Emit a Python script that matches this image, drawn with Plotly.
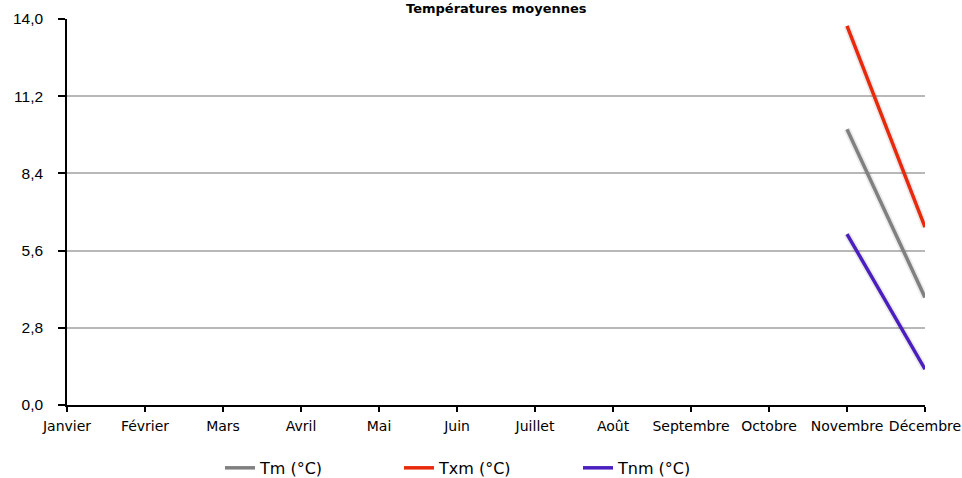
import plotly.graph_objects as go

months = ["Janvier", "Février", "Mars", "Avril", "Mai", "Juin", "Juillet",
          "Août", "Septembre", "Octobre", "Novembre", "Décembre"]
tm = [None] * 10 + [10.0, 3.9]
txm = [None] * 10 + [13.75, 6.45]
tnm = [None] * 10 + [6.2, 1.3]
y_ticks = [0.0, 2.8, 5.6, 8.4, 11.2, 14.0]
title = "Températures moyennes"

x = list(range(len(months)))
fig = go.Figure()
series = [("Tm (°C)", tm, "#808080"), ("Txm (°C)", txm, "#e8290b"), ("Tnm (°C)", tnm, "#4b1fbf")]
# soft shadows under the lines
for name, vals, col in series:
    fig.add_trace(go.Scatter(x=x, y=vals, mode="lines",
                             line=dict(color="rgba(0,0,0,0.08)", width=7),
                             showlegend=False, hoverinfo="skip"))
for name, vals, col in series:
    fig.add_trace(go.Scatter(x=x, y=vals, mode="lines", name=name,
                             line=dict(color=col, width=3.5)))

fig.add_annotation(text="<b>" + title + "</b>", x=0.5, xref="paper", y=1.0, yref="paper",
                   yanchor="bottom", yshift=1, showarrow=False,
                   font=dict(size=13, color="#000", family="DejaVu Sans"))
fig.update_layout(
    width=962, height=478, separators=", ",
    margin=dict(l=67, r=37, t=19, b=73, autoexpand=False),
    plot_bgcolor="white", paper_bgcolor="white",
    font=dict(family="DejaVu Sans", size=13, color="#000"),
    showlegend=True,
    legend=dict(orientation="h", x=(220 - 67) / 858, xanchor="left", y=-0.163, yanchor="middle",
                font=dict(size=16, family="DejaVu Sans"), entrywidth=134, itemwidth=30,
                bgcolor="rgba(0,0,0,0)"),
    xaxis=dict(range=[0, 11], tickvals=x, ticktext=months, showgrid=False, automargin=False,
               showline=True, linecolor="#000", linewidth=2, ticks="outside",
               tickcolor="#000", ticklen=5, tickwidth=1.5, ticklabelstandoff=2,
               tickfont=dict(size=14, family="DejaVu Sans"),
               zeroline=False, fixedrange=True),
    yaxis=dict(range=[0, 14], tickvals=y_ticks, tickformat=".1f", showgrid=True, automargin=False,
               gridcolor="#b8b8b8", gridwidth=1.5, showline=True, linecolor="#000",
               linewidth=1.5, ticks="outside", ticklen=7, tickcolor="#000", tickwidth=1.5,
               ticklabelstandoff=12, tickfont=dict(size=15.5, family="Liberation Sans"),
               zeroline=False, fixedrange=True),
)
fig.write_html("out.html", config={"displayModeBar": False},
               post_script="document.body.style.margin='0px';")
